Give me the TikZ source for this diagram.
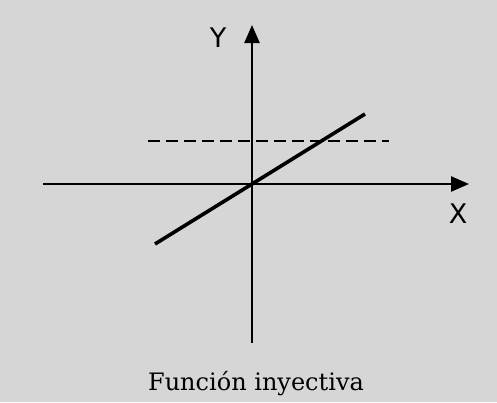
\documentclass[tikz,border=0pt]{standalone}
\usepackage{fontspec}
\newfontfamily\capfont{DejaVu Serif}
\newfontfamily\axisfont{DejaVu Sans}
\usetikzlibrary{arrows.meta}
\definecolor{paper}{gray}{0.84}
\begin{document}
\begin{tikzpicture}[x=0.5pt,y=-0.5pt,
    axisline/.style={line width=1.2pt,-{Triangle[length=9pt,width=7.5pt]}},
    graphline/.style={line width=1.8pt},
    levelline/.style={line width=1.3pt,dash pattern=on 6pt off 3pt},
    axislabel/.style={font=\axisfont\fontsize{13.5pt}{16pt}\selectfont,inner sep=0pt}]

    % background
    \fill[paper] (0,0) rectangle (497,402);
    \useasboundingbox (0,0) rectangle (497,402);

    % points
    \coordinate (O) at (252,184);
    \coordinate (xleft) at (43,184);
    \coordinate (xright) at (469,184);
    \coordinate (ybottom) at (252,343);
    \coordinate (ytop) at (252,25);
    \coordinate (fstart) at (155,244);
    \coordinate (fend) at (365,114);
    \coordinate (dstart) at (148,141);
    \coordinate (dend) at (389,141);

    % axes
    \draw[axisline] (xleft) -- (xright);
    \draw[axisline] (ybottom) -- (ytop);

    % function and level line
    \draw[levelline] (dstart) -- (dend);
    \draw[graphline] (fstart) -- (O) -- (fend);

    % labels
    \node[axislabel] (ylabel) at (218,38) {Y};
    \node[axislabel] (xlabel) at (458,214) {X};
    \node[font=\capfont\fontsize{12pt}{14pt}\selectfont,inner sep=0pt] (caption) at (256,384) {Función inyectiva};
\end{tikzpicture}
\end{document}
